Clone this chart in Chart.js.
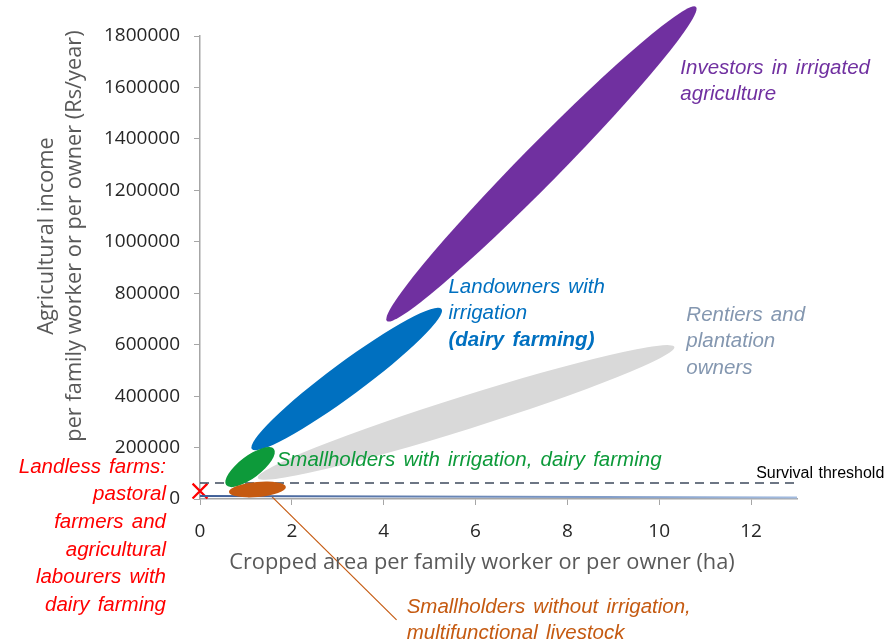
<!DOCTYPE html>
<html>
<head>
<meta charset="utf-8">
<script src="https://cdn.jsdelivr.net/npm/chart.js@4.4.1/dist/chart.umd.min.js"></script>
<style>
  html, body { margin: 0; padding: 0; background: #fff; }
</style>
</head>
<body>
<canvas id="chart" width="891" height="644"></canvas>
<script>
// axes
const xTicks = [0, 2, 4, 6, 8, 10, 12];
const xMax = 13;
const yMax = 1800000;
const yStep = 200000;
const xTitle = 'Cropped area per family worker or per owner (ha)';
const yTitle = ['Agricultural income', 'per family worker or per owner (Rs/year)'];

// farm groups, each an oval running from (x1, y1) to (x2, y2)  (ha, Rs/year)
const groups = ['rentiers', 'investors', 'landowners', 'smallIrr', 'smallNoIrr'];
const gx1 = [1.26, 4.07, 1.13, 0.57, 0.63];
const gy1 = [82000, 692000, 194000, 54000, 27000];
const gx2 = [10.33, 10.8, 5.26, 1.61, 1.87];
const gy2 = [591000, 1913000, 739000, 194000, 47000];

// other marks
const survivalThreshold = 62000;
const landlessLineX = [0, 13];
const landlessLineY = [12000, 6000];
const landlessMarkX = [0];
const landlessMarkY = [31000];
const leaderX = [1.57, 4.28];
const leaderY = [8000, -470000];

const groupStyle = {
  rentiers:   { color: '#d9d9d9', w: 33 },
  investors:  { color: '#7030a0', w: 39 },
  landowners: { color: '#0070c0', w: 33 },
  smallIrr:   { color: '#0d9a3a', w: 22 },
  smallNoIrr: { color: '#c55a11', w: 15 }
};

// text labels, anchored in data units (first line centre)
const notes = [
  { lines: ['Investors in irrigated', 'agriculture'], x: 10.46, y: 1675000, color: '#7030a0', align: 'left' },
  { lines: ['Landowners with', 'irrigation', '(dairy farming)'], x: 5.41, y: 824000, color: '#0070c0', align: 'left', boldLast: true },
  { lines: ['Rentiers and', 'plantation', 'owners'], x: 10.59, y: 715000, color: '#8497b0', align: 'left' },
  { lines: ['Smallholders with irrigation, dairy farming'], x: 1.67, y: 152000, color: '#0d9a3a', align: 'left' },
  { lines: ['Landless farms:', 'pastoral', 'farmers and', 'agricultural', 'labourers with', 'dairy farming'], x: -0.74, y: 124000, color: '#ff0000', align: 'right', step: 27.6 },
  { lines: ['Smallholders without irrigation,', 'multifunctional livestock'], x: 4.5, y: -420000, color: '#c55a11', align: 'left' }
];

const pts = (xs, ys) => xs.map((x, i) => ({ x, y: ys[i] }));

const ovals = {
  id: 'ovals',
  afterDatasetsDraw(chart) {
    const { ctx, scales: { x, y } } = chart;
    groups.forEach((g, i) => {
      const ax = x.getPixelForValue(gx1[i]), ay = y.getPixelForValue(gy1[i]);
      const bx = x.getPixelForValue(gx2[i]), by = y.getPixelForValue(gy2[i]);
      const st = groupStyle[g];
      ctx.save();
      ctx.translate((ax + bx) / 2, (ay + by) / 2);
      ctx.rotate(Math.atan2(by - ay, bx - ax));
      ctx.beginPath();
      ctx.ellipse(0, 0, Math.hypot(bx - ax, by - ay) / 2, st.w / 2, 0, 0, Math.PI * 2);
      ctx.fillStyle = st.color;
      ctx.fill();
      ctx.restore();
    });

    ctx.save();
    ctx.textBaseline = 'middle';
    ctx.wordSpacing = '2.5px';
    notes.forEach(n => {
      const px = x.getPixelForValue(n.x);
      const py = y.getPixelForValue(n.y);
      ctx.fillStyle = n.color;
      ctx.textAlign = n.align;
      n.lines.forEach((t, k) => {
        const bold = n.boldLast && k === n.lines.length - 1;
        ctx.font = (bold ? 'italic bold ' : 'italic ') + '20.5px "Liberation Sans", Arial, sans-serif';
        ctx.fillText(t, px, py + k * (n.step || 26.5));
      });
    });
    ctx.wordSpacing = '1px';
    ctx.font = '16px "Liberation Sans", Arial, sans-serif';
    ctx.fillStyle = '#000';
    ctx.textAlign = 'left';
    ctx.fillText('Survival threshold', x.getPixelForValue(12.11), y.getPixelForValue(97000));
    ctx.restore();
  },
  afterDraw(chart) {
    const { ctx, chartArea: a } = chart;
    ctx.save();
    ctx.fillStyle = '#595959';
    ctx.font = '21.8px "Open Sans", sans-serif';
    ctx.textAlign = 'center';
    ctx.textBaseline = 'middle';
    ctx.fillText(xTitle, a.left + 282, a.bottom + 64);
    ctx.translate(a.left - 153, a.top + 200);
    ctx.rotate(-Math.PI / 2);
    yTitle.forEach((t, k) => ctx.fillText(t, 0, k * 28));
    ctx.restore();
  }
};

new Chart(document.getElementById('chart'), {
  type: 'scatter',
  data: {
    datasets: [
      {
        data: pts(landlessLineX, [survivalThreshold, survivalThreshold]),
        showLine: true, borderColor: '#3e4a5c', borderWidth: 1.6, borderDash: [9, 6],
        pointRadius: 0
      },
      {
        data: pts(landlessLineX, landlessLineY),
        showLine: true, borderWidth: 2, pointRadius: 0, clip: false,
        borderColor: c => {
          const a = c.chart.chartArea;
          if (!a) return '#5b7fbf';
          const g = c.chart.ctx.createLinearGradient(a.left, 0, a.right, 0);
          g.addColorStop(0, '#3d5d96');
          g.addColorStop(1, '#a3bce0');
          return g;
        }
      },
      {
        data: pts(leaderX, leaderY),
        showLine: true, borderColor: '#c55a11', borderWidth: 1.2, pointRadius: 0, clip: false
      },
      {
        data: pts(landlessMarkX, landlessMarkY),
        pointStyle: 'crossRot', pointRadius: 10.5, borderColor: '#ff0000', borderWidth: 2.2, clip: false
      }
    ]
  },
  options: {
    responsive: false,
    animation: false,
    devicePixelRatio: 1,
    layout: { padding: { top: 36, right: 94, bottom: 0, left: 0 } },
    plugins: { legend: { display: false }, tooltip: { enabled: false } },
    scales: {
      x: {
        type: 'linear', min: 0, max: xMax,
        afterBuildTicks: s => { s.ticks = xTicks.map(v => ({ value: v })); },
        afterFit: s => { s.height = 145; },
        grid: { drawOnChartArea: false, tickLength: 6, color: '#a6a6a6' },
        border: { color: '#a6a6a6', width: 1.5 },
        ticks: { color: '#262626', padding: 15, font: { family: 'Open Sans', size: 19 } }
      },
      y: {
        min: 0, max: yMax,
        afterFit: s => { s.width = 200; },
        grid: { drawOnChartArea: false, tickLength: 6, color: '#a6a6a6' },
        border: { color: '#a6a6a6', width: 1.5 },
        ticks: { stepSize: yStep, color: '#262626', padding: 14, font: { family: 'Open Sans', size: 19 }, callback: v => String(v) }
      }
    }
  },
  plugins: [ovals]
});
</script>
</body>
</html>
